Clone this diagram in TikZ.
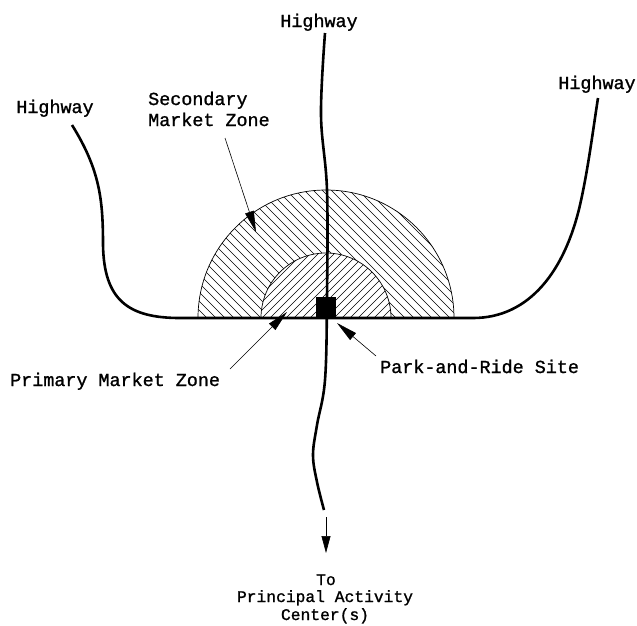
\documentclass[tikz,border=0pt]{standalone}
\usepackage{fontspec}
\newfontfamily\lblfont{Liberation Mono}[FakeBold=1.2]
\usetikzlibrary{arrows.meta}
\begin{document}
\begin{tikzpicture}[x=1pt,y=-1pt,
 road/.style={line width=2.6pt, line join=round},
 hatch/.style={line width=0.5pt},
 zone/.style={line width=0.7pt},
 pointer/.style={line width=0.6pt, -{Triangle[length=21pt,width=9pt]}},
 lbl/.style={font=\lblfont\fontsize{18.4}{21}\selectfont, inner sep=0pt},
 lblsmall/.style={font=\lblfont\fontsize{16.3}{18}\selectfont, inner sep=0pt}]
\useasboundingbox (0,0) rectangle (637,625);

% outer zone hatching
\begin{scope}
\clip (198,318) rectangle (454,189);
\clip (326,318) circle[radius=128];
\foreach \c in {198,207,...,600} \draw[hatch] (\c,318) -- ++(-140,-140);
\end{scope}
% inner zone hatching
\begin{scope}
\clip (261,318) rectangle (391,253);
\clip (326,318) circle[radius=65];
\fill[white] (261,318) rectangle (391,253);
\foreach \c in {190,198,...,395} \draw[hatch] (\c,318) -- ++(75,-75);
\end{scope}
% zone outlines
\begin{scope}
\clip (150,318) rectangle (500,150);
\draw[zone] (326,318) circle[radius=128];
\draw[zone] (326,318) circle[radius=65];
\end{scope}

% roads
\draw[road] (72,125) .. controls (100,170) and (103,200) .. (103,245)
  .. controls (104,300) and (128,318) .. (180,318) -- (473,318)
  .. controls (530,318) and (565,270) .. (580,205)
  .. controls (588,170) and (593,130) .. (598,98);
\draw[road] plot[smooth, tension=0.6] coordinates {(325,33) (321,115) (327,190) (327,297) (325,380) (317,425) (313,455) (317,482) (324,510)};

% park-and-ride site
\fill (316,297) rectangle (336,318);

% labels
\node[lbl, anchor=base] (hwTop) at (319,27) {Highway};
\node[lbl, anchor=base] (hwLeft) at (55,113) {Highway};
\node[lbl, anchor=base] (hwRight) at (597,89) {Highway};
\node[lbl, anchor=base west] (sec1) at (148,105) {Secondary};
\node[lbl, anchor=base west] (sec2) at (148,126) {Market Zone};
\node[lbl, anchor=base west] (prim) at (10,386) {Primary Market Zone};
\node[lbl, anchor=base west] (pr) at (380,373) {Park-and-Ride Site};
\node[lblsmall, anchor=base] (to1) at (326,585) {To};
\node[lblsmall, anchor=base] (to2) at (325,602) {Principal Activity};
\node[lblsmall, anchor=base] (to3) at (325,620) {Center(s)};

% pointers
\coordinate (secTail) at (225,138);
\coordinate (secTip) at (256,232);
\coordinate (primTail) at (230,369);
\coordinate (primTip) at (287,312);
\coordinate (prTail) at (376,356);
\coordinate (prTip) at (337,323);
\coordinate (pacTail) at (326,517);
\coordinate (pacTip) at (326,553);
\draw[pointer] (secTail) -- (secTip);
\draw[pointer] (primTail) -- (primTip);
\draw[pointer] (prTail) -- (prTip);
\draw[line width=0.6pt, -{Triangle[length=17pt,width=9pt]}] (pacTail) -- (pacTip);
\end{tikzpicture}
\end{document}
